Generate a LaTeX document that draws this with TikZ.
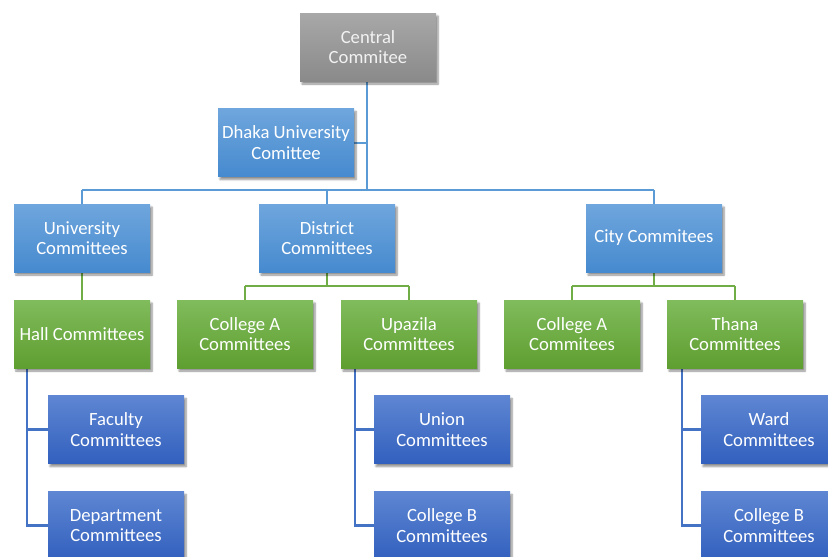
\documentclass[tikz,border=0pt]{standalone}
\usepackage{fontspec}
\setmainfont{Carlito}
\usetikzlibrary{shadows.blur}
\definecolor{gtop}{HTML}{A8A8A8}\definecolor{gbot}{HTML}{8A8A8A}
\definecolor{btop}{HTML}{6FA6DD}\definecolor{bbot}{HTML}{468ACF}
\definecolor{ntop}{HTML}{80BC5C}\definecolor{nbot}{HTML}{5F9E30}
\definecolor{dtop}{HTML}{5E86D2}\definecolor{dbot}{HTML}{3260BE}
\definecolor{lblue}{HTML}{5B9BD5}\definecolor{lgreen}{HTML}{70AD47}\definecolor{ldark}{HTML}{4472C4}
\tikzset{
  box/.style={rectangle, minimum width=136pt, minimum height=68pt, inner sep=0pt, align=center,
    text=white, font=\fontsize{18.67}{20.5}\selectfont,
    blur shadow={shadow xshift=2pt, shadow yshift=-3pt, shadow opacity=45, shadow blur steps=6}},
  greybox/.style={box, top color=gtop, bottom color=gbot, text=white!95!black},
  bluebox/.style={box, top color=btop, bottom color=bbot},
  greenbox/.style={box, top color=ntop, bottom color=nbot},
  darkbox/.style={box, top color=dtop, bottom color=dbot},
  conn/.style={line width=2.8pt},
}
\begin{document}
\begin{tikzpicture}[x=1pt,y=-1pt]
\useasboundingbox (0,0) rectangle (828,557);
\clip (0,0) rectangle (828,557);
% coordinates
\coordinate (bus) at (367,190);
\coordinate (busL) at (82,190);
\coordinate (busR) at (654,190);
\coordinate (dbar) at (327,286);
\coordinate (dbarL) at (245,286);
\coordinate (dbarR) at (409,286);
\coordinate (cbar) at (654,286);
\coordinate (cbarL) at (572,286);
\coordinate (cbarR) at (735,286);
\coordinate (hv) at (27,368);
\coordinate (hvb) at (27,525.5);
\coordinate (uv) at (355,368);
\coordinate (uvb) at (355,525.5);
\coordinate (tv) at (682,368);
\coordinate (tvb) at (682,525.5);
% connectors
\draw[conn, lblue] (367,81) -- (bus);
\draw[conn, lblue] (354,143) -- (367,143);
\draw[conn, lblue] (busL) -- (busR);
\draw[conn, lblue] (busL) -- (82,204);
\draw[conn, lblue] (327,190) -- (327,204);
\draw[conn, lblue] (busR) -- (654,204);
\draw[conn, lgreen] (82,272) -- (82,300);
\draw[conn, lgreen] (327,272) -- (dbar);
\draw[conn, lgreen] (dbarL) -- (dbarR);
\draw[conn, lgreen] (dbarL) -- (245,300);
\draw[conn, lgreen] (dbarR) -- (409,300);
\draw[conn, lgreen] (654,272) -- (cbar);
\draw[conn, lgreen] (cbarL) -- (cbarR);
\draw[conn, lgreen] (cbarL) -- (572,300);
\draw[conn, lgreen] (cbarR) -- (735,300);
\draw[conn, ldark] (hv) -- (hvb) -- (48,525.5);
\draw[conn, ldark] (27,429.5) -- (48,429.5);
\draw[conn, ldark] (uv) -- (uvb) -- (374,525.5);
\draw[conn, ldark] (355,429.5) -- (374,429.5);
\draw[conn, ldark] (tv) -- (tvb) -- (701,525.5);
\draw[conn, ldark] (682,429.5) -- (701,429.5);
% nodes
\node[greybox] (central) at (368,47) {Central\\Commitee};
\node[bluebox] (dhaka) at (286,142.5) {Dhaka University\\Comittee};
\node[bluebox] (univ) at (82,238) {University\\Committees};
\node[bluebox] (district) at (327,238) {District\\Committees};
\node[bluebox] (city) at (654,238) {City Commitees};
\node[greenbox] (hall) at (82,334) {Hall Committees};
\node[greenbox] (colla) at (245,334) {College A\\Committees};
\node[greenbox] (upazila) at (409,334) {Upazila\\Committees};
\node[greenbox] (citya) at (572,334) {College A\\Commitees};
\node[greenbox] (thana) at (735,334) {Thana\\Committees};
\node[darkbox] (faculty) at (116,429.5) {Faculty\\Committees};
\node[darkbox] (dept) at (116,525.5) {Department\\Committees};
\node[darkbox] (union) at (442,429.5) {Union\\Committees};
\node[darkbox] (collb) at (442,525.5) {College B\\Committees};
\node[darkbox] (ward) at (769,429.5) {Ward\\Committees};
\node[darkbox] (collb2) at (769,525.5) {College B\\Committees};
\end{tikzpicture}
\end{document}
